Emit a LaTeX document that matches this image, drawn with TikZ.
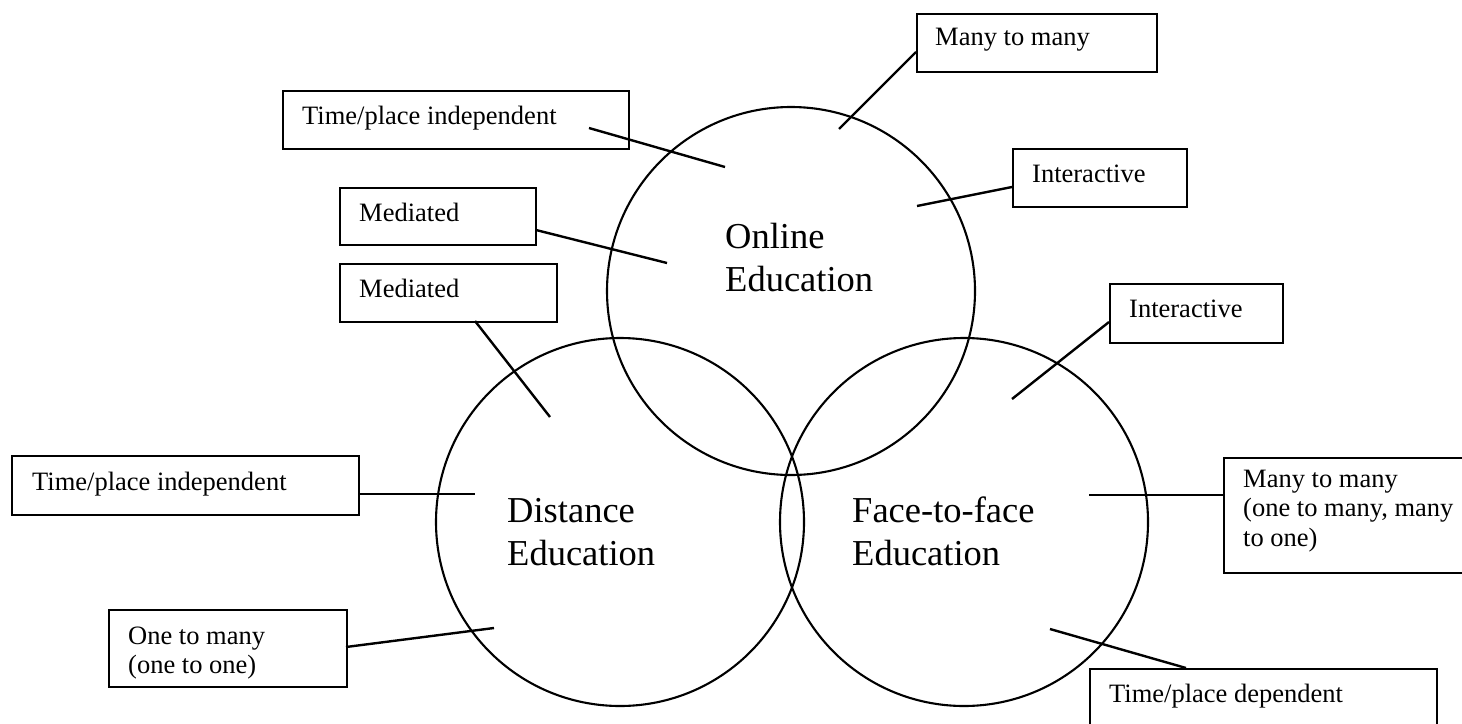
\documentclass[tikz,border=0pt]{standalone}
\usepackage{fontspec}
\setmainfont{Liberation Serif}
\tikzset{
  circ/.style={circle, draw, line width=2.1pt, minimum size=368pt, inner sep=0pt},
  box/.style={draw, line width=1.5pt, rectangle, inner sep=0pt, anchor=north west},
  small/.style={font=\fontsize{26.5}{29.5}\selectfont, inner sep=0pt, anchor=base west},
  big/.style={font=\fontsize{36.5}{43}\selectfont, inner sep=0pt, anchor=base west},
  conn/.style={line width=2.4pt},
}
\begin{document}
\begin{tikzpicture}[x=1pt, y=-1pt]
\useasboundingbox (0,0) rectangle (1462,723);
\fill[white] (0,0) rectangle (1462,723);
\clip (0,0) rectangle (1462,723);

% circles
\node[circ] (on) at (791,291) {};
\node[circ] (de) at (620,522) {};
\node[circ] (ff) at (964,522) {};

% circle labels
\node[big] (onl) at (725,248) {\vtop{\hbox{Online}\hbox{Education}}};
\node[big] (del) at (507,522) {\vtop{\hbox{Distance}\hbox{Education}}};
\node[big] (ffl) at (852,522) {\vtop{\hbox{Face-to-face}\hbox{Education}}};

% boxes
\node[box, minimum width=346pt, minimum height=58pt] (b1) at (282,90) {};
\node[small] (t1) at (302,124) {Time/place independent};
\node[box, minimum width=240pt, minimum height=58pt] (b2) at (916,13) {};
\node[small] (t2) at (935,45) {Many to many};
\node[box, minimum width=174pt, minimum height=58pt] (b3) at (1012,148) {};
\node[small] (t3) at (1032,182) {Interactive};
\node[box, minimum width=196pt, minimum height=57pt] (b4) at (339,187) {};
\node[small] (t4) at (359,221) {Mediated};
\node[box, minimum width=217pt, minimum height=58pt] (b5) at (339,263) {};
\node[small] (t5) at (359,297) {Mediated};
\node[box, minimum width=173pt, minimum height=59pt] (b6) at (1109,283) {};
\node[small] (t6) at (1129,317) {Interactive};
\node[box, minimum width=347pt, minimum height=59pt] (b7) at (11,455) {};
\node[small] (t7) at (32,490) {Time/place independent};
\node[box, minimum width=238pt, minimum height=77pt] (b8) at (108,609) {};
\node[small] (t8) at (128,644) {\vtop{\hbox{One to many}\hbox{(one to one)}}};
\node[box, minimum width=250pt, minimum height=115pt] (b9) at (1223,457) {};
\node[small] (t9) at (1243,487) {\vtop{\hbox{Many to many}\hbox{(one to many, many}\hbox{to one)}}};
\node[box, minimum width=347pt, minimum height=80pt] (b10) at (1089,668) {};
\node[small] (t10) at (1109,702) {Time/place dependent};

% connector ends
\coordinate (p1a) at (589,128);  \coordinate (p1b) at (725,167);
\coordinate (p2a) at (916,52);   \coordinate (p2b) at (839,129);
\coordinate (p3a) at (1012,187); \coordinate (p3b) at (917,206);
\coordinate (p4a) at (536,230);  \coordinate (p4b) at (667,263);
\coordinate (p5a) at (475,321);  \coordinate (p5b) at (550,417);
\coordinate (p6a) at (1109,322); \coordinate (p6b) at (1012,399);
\coordinate (p7a) at (358,494);  \coordinate (p7b) at (475,494);
\coordinate (p8a) at (346,647);  \coordinate (p8b) at (494,628);
\coordinate (p9a) at (1223,495); \coordinate (p9b) at (1089,495);
\coordinate (p10a) at (1186,668); \coordinate (p10b) at (1050,629);

\draw[conn] (p1a) -- (p1b);
\draw[conn] (p2a) -- (p2b);
\draw[conn] (p3a) -- (p3b);
\draw[conn] (p4a) -- (p4b);
\draw[conn] (p5a) -- (p5b);
\draw[conn] (p6a) -- (p6b);
\draw[conn] (p7a) -- (p7b);
\draw[conn] (p8a) -- (p8b);
\draw[conn] (p9a) -- (p9b);
\draw[conn] (p10a) -- (p10b);
\end{tikzpicture}
\end{document}
